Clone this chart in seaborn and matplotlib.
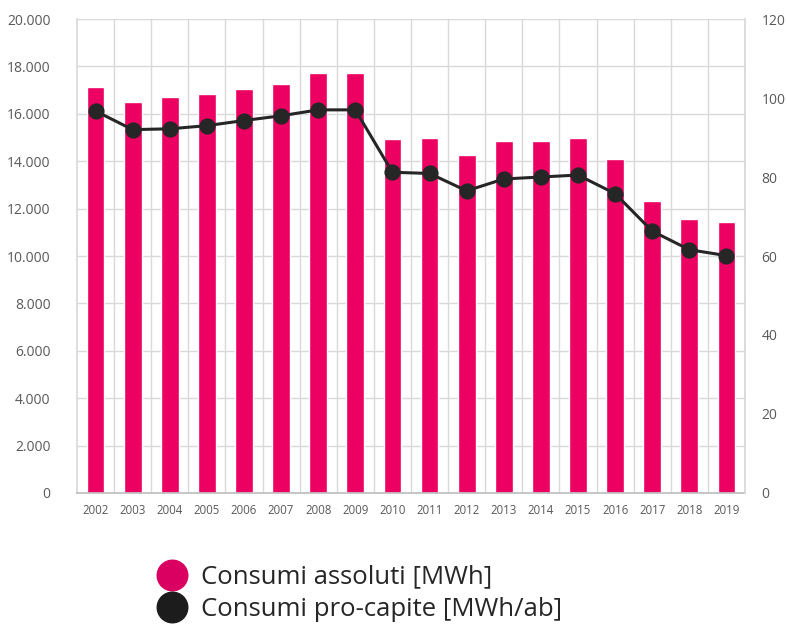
import matplotlib
matplotlib.use("Agg")
import matplotlib.pyplot as plt
from matplotlib.lines import Line2D
from matplotlib.ticker import FuncFormatter, MultipleLocator
import numpy as np
import seaborn as sns

years = ["2002", "2003", "2004", "2005", "2006", "2007", "2008", "2009", "2010",
         "2011", "2012", "2013", "2014", "2015", "2016", "2017", "2018", "2019"]
consumi_assoluti = [17120, 16500, 16700, 16840, 17030, 17260, 17710, 17710, 14920,
                    15000, 14250, 14860, 14860, 14960, 14090, 12310, 11550, 11430]
consumi_procapite = [96.7, 92.0, 92.2, 93.0, 94.3, 95.5, 97.0, 97.0, 81.2,
                     80.9, 76.5, 79.5, 80.0, 80.5, 75.8, 66.3, 61.6, 60.1]

bar_color = "#EC0062"
line_color = "#262626"
grid_color = "#D9D9D9"
text_color = "#595959"

sns.set_theme(style="white")
plt.rcParams["font.family"] = ["Open Sans", "DejaVu Sans"]

fig = plt.figure(figsize=(7.87, 6.30), dpi=100)
ax = fig.add_axes([0.0978, 0.2175, 0.8488, 0.7523])

sns.barplot(x=years, y=consumi_assoluti, color=bar_color, width=0.48,
            saturation=1, ax=ax, zorder=2)
ax.set_ylim(0, 20000)
ax.set_xlim(-0.5, len(years) - 0.5)
ax.yaxis.set_major_locator(MultipleLocator(2000))
ax.yaxis.set_major_formatter(FuncFormatter(lambda v, p: f"{int(v):,}".replace(",", ".")))
ax.set_xticks(np.arange(len(years)) + 0.5, minor=True)
ax.grid(True, axis="y", which="major", color=grid_color, linewidth=1, zorder=0)
ax.grid(True, axis="x", which="minor", color=grid_color, linewidth=1, zorder=0)
ax.set_axisbelow(True)
for s in ["top", "right"]:
    ax.spines[s].set_visible(False)
ax.spines["left"].set_color(grid_color)
ax.spines["bottom"].set_color("#BFBFBF")
ax.tick_params(axis="y", length=0, pad=19, labelsize=10, labelcolor=text_color)
ax.tick_params(axis="x", which="both", length=0, pad=8, labelsize=8.3, labelcolor=text_color)
ax.set_xlabel("")
ax.set_ylabel("")

ax2 = ax.twinx()
sns.pointplot(x=years, y=consumi_procapite, color=line_color, markers="o",
              markersize=10, linewidth=2.2, ax=ax2, zorder=3)
ax2.set_ylim(0, 120)
ax2.set_xlim(-0.5, len(years) - 0.5)
ax2.yaxis.set_major_locator(MultipleLocator(20))
ax2.grid(False)
for s in ["top", "left", "bottom"]:
    ax2.spines[s].set_visible(False)
ax2.spines["right"].set_color(grid_color)
ax2.tick_params(axis="y", length=0, pad=12, labelsize=10, labelcolor=text_color)
ax2.set_ylabel("")

handles = [
    Line2D([], [], linestyle="none", marker="o", markersize=22, color="#DA0061"),
    Line2D([], [], linestyle="none", marker="o", markersize=22, color="#1C1C1C"),
]
labels = ["Consumi assoluti [MWh]", "Consumi pro-capite [MWh/ab]"]
fig.legend(handles, labels, loc="upper left", bbox_to_anchor=(0.1825, 0.124),
           frameon=False, fontsize=18.5, handlelength=1.2, handletextpad=0.55,
           labelspacing=0.27, borderpad=0, labelcolor="#262626")

fig.savefig("out.png", dpi=100)
